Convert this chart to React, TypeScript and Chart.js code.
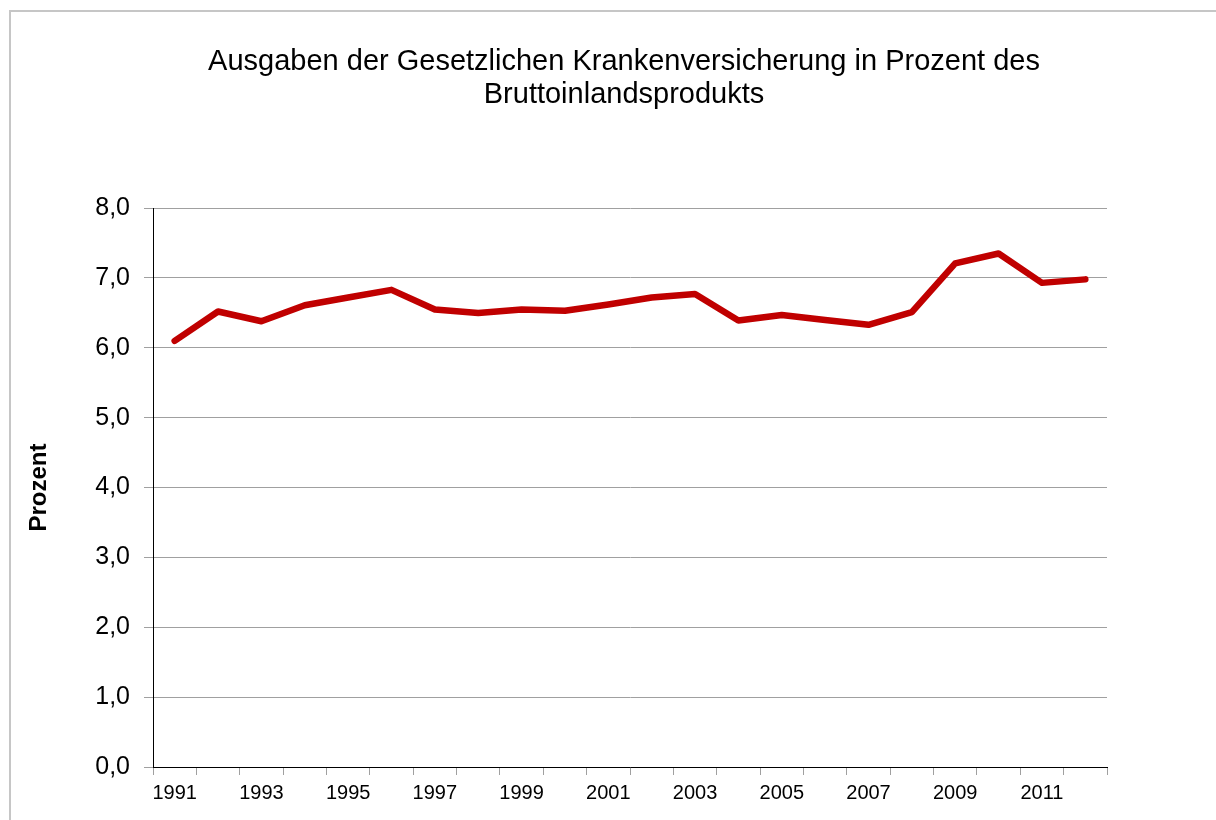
import React, { useEffect, useRef } from "react";
import { Chart, registerables } from "chart.js";

Chart.register(...registerables);

const years = [
  "1991", "1992", "1993", "1994", "1995", "1996", "1997", "1998", "1999", "2000", "2001",
  "2002", "2003", "2004", "2005", "2006", "2007", "2008", "2009", "2010", "2011", "2012",
];
const gkvShare = [
  6.1, 6.52, 6.38, 6.61, 6.72, 6.83, 6.55, 6.5, 6.55, 6.53, 6.62,
  6.72, 6.77, 6.39, 6.47, 6.4, 6.33, 6.51, 7.21, 7.35, 6.93, 6.98,
];
const titleLines = [
  "Ausgaben der Gesetzlichen Krankenversicherung in Prozent des",
  "Bruttoinlandsprodukts",
];
const yAxisTitle = "Prozent";
const yMin = 0;
const yMax = 8;

const FONT = '"Liberation Sans", Arial, Helvetica, sans-serif';

export default function App() {
  const ref = useRef<HTMLCanvasElement | null>(null);

  useEffect(() => {
    document.body.style.margin = "0";
    document.body.style.overflow = "hidden";
    const canvas = ref.current;
    if (!canvas) return;
    const chart = new Chart(canvas, {
      type: "line",
      data: {
        labels: years,
        datasets: [
          {
            data: gkvShare,
            yAxisID: "y",
            borderColor: "#c00000",
            backgroundColor: "#c00000",
            borderWidth: 6.5,
            borderCapStyle: "round",
            borderJoinStyle: "round",
            pointRadius: 0,
            pointHoverRadius: 0,
            tension: 0,
            fill: false,
          },
        ],
      },
      options: {
        responsive: false,
        animation: false,
        layout: { padding: 0 },
        plugins: {
          legend: { display: false },
          tooltip: { enabled: false },
          title: {
            display: true,
            text: titleLines,
            color: "#000",
            font: { family: FONT, size: 29, weight: "normal", lineHeight: 1.14 },
            padding: { top: 45, bottom: 97 },
          },
        },
        scales: {
          x: {
            type: "category",
            offset: true,
            afterFit: (s: any) => {
              s.height = 53;
            },
            grid: {
              offset: true,
              drawOnChartArea: false,
              drawTicks: true,
              tickLength: 8,
              color: "#a0a0a0",
            },
            border: { display: true, color: "#000", width: 1 },
            ticks: {
              autoSkip: false,
              maxRotation: 0,
              minRotation: 0,
              padding: 6,
              color: "#000",
              font: { family: FONT, size: 20 },
              callback: (_v: any, i: number) => (i % 2 === 0 ? years[i] : ""),
            },
          },
          y: {
            min: yMin,
            max: yMax,
            afterFit: (s: any) => {
              s.width = 153;
            },
            grid: {
              color: "#a0a0a0",
              drawTicks: true,
              tickLength: 9,
            },
            border: { display: true, color: "#000", width: 1 },
            ticks: {
              stepSize: 1,
              padding: 14,
              color: "#000",
              font: { family: FONT, size: 25 },
              callback: (v: any) => Number(v).toFixed(1).replace(".", ","),
            },
            title: {
              display: true,
              text: yAxisTitle,
              color: "#000",
              font: { family: FONT, size: 24, weight: "bold", lineHeight: 1.2 },
              padding: { top: 25, bottom: 0 },
            },
          },
          yRightSpace: {
            position: "right",
            min: yMin,
            max: yMax,
            afterFit: (s: any) => {
              s.width = 141;
            },
            grid: { display: false, drawOnChartArea: false },
            border: { display: false },
            ticks: { display: false },
          },
        },
      },
    });
    return () => chart.destroy();
  }, []);

  return (
    <div style={{ position: "relative", width: 1216, height: 820, overflow: "hidden", background: "#fff" }}>
      <div
        style={{
          position: "absolute",
          left: 9,
          top: 10,
          width: 1300,
          height: 900,
          borderTop: "2px solid #c6c6c6",
          borderLeft: "2px solid #c6c6c6",
          boxSizing: "border-box",
        }}
      />
      <canvas
        ref={ref}
        width={1248}
        height={820}
        style={{ position: "absolute", left: 0, top: 0, width: 1248, height: 820 }}
      />
    </div>
  );
}
